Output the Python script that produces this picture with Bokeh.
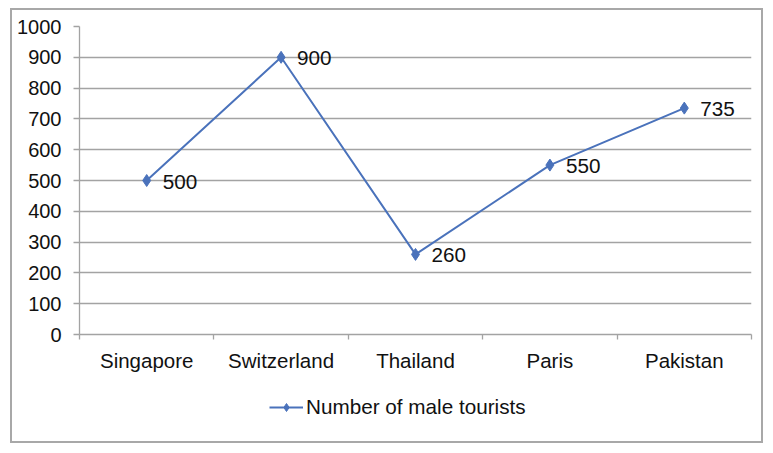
from bokeh.plotting import figure
from bokeh.layouts import column
from bokeh.models import (Range1d, FixedTicker, SingleIntervalTicker, Legend, LegendItem,
                          ColumnDataSource)
from bokeh.embed import file_html
from bokeh.resources import INLINE
from bokeh.core.properties import value

categories = ["Singapore", "Switzerland", "Thailand", "Paris", "Pakistan"]
male_tourists = [500, 900, 260, 550, 735]
series_name = "Number of male tourists"

FONT = "Liberation Sans"
LINE_COLOR = "#4a72bb"
GRID = "#a3a3a3"
TEXT = "#111111"

xs = [i + 0.5 for i in range(len(categories))]
src = ColumnDataSource(dict(x=xs, y=male_tourists, label=[str(v) for v in male_tourists]))

p = figure(width=749, height=374, output_backend="svg", toolbar_location=None,
           x_range=Range1d(0, len(categories)), y_range=Range1d(0, 1000),
           min_border_left=67, min_border_right=10, min_border_top=16, min_border_bottom=50)
p.outline_line_color = None
p.background_fill_color = "white"
p.border_fill_color = "white"

# x axis
p.xaxis.ticker = FixedTicker(ticks=xs, minor_ticks=list(range(len(categories) + 1)))
p.xaxis.major_label_overrides = {x: c for x, c in zip(xs, categories)}
p.xaxis.major_tick_line_color = None
p.xaxis.minor_tick_in = 0
p.xaxis.minor_tick_out = 5
p.xaxis.minor_tick_line_color = GRID
p.xaxis.minor_tick_line_width = 1.3
p.xaxis.axis_line_color = GRID
p.xaxis.axis_line_width = 1.3
p.xaxis.major_label_text_font = FONT
p.xaxis.major_label_text_font_size = "20.5px"
p.xaxis.major_label_text_color = TEXT
p.xaxis.major_label_standoff = 8
p.xgrid.visible = False

# y axis
p.yaxis.ticker = SingleIntervalTicker(interval=100, num_minor_ticks=0)
p.yaxis.major_tick_in = 0
p.yaxis.major_tick_out = 6
p.yaxis.major_tick_line_color = GRID
p.yaxis.major_tick_line_width = 1.3
p.yaxis.minor_tick_line_color = None
p.yaxis.axis_line_color = GRID
p.yaxis.axis_line_width = 1.3
p.yaxis.major_label_text_font = FONT
p.yaxis.major_label_text_font_size = "20px"
p.yaxis.major_label_text_color = TEXT
p.yaxis.major_label_standoff = 12
p.ygrid.grid_line_color = GRID
p.ygrid.grid_line_width = 1.3

p.line("x", "y", source=src, line_color=LINE_COLOR, line_width=2)
p.scatter("x", "y", source=src, marker="diamond", size=12, fill_color=LINE_COLOR,
          line_color=LINE_COLOR)
p.text("x", "y", text="label", source=src, x_offset=16, y_offset=1,
       text_font=value(FONT), text_font_size="20.7px", text_baseline="middle",
       text_color=TEXT)

# legend strip below the chart (its renderers share the data but lie outside its view)
pl = figure(width=749, height=57, output_backend="svg", toolbar_location=None,
            x_axis_location=None, y_axis_location=None,
            x_range=Range1d(100, 101), y_range=Range1d(5000, 5001),
            min_border_left=0, min_border_right=0, min_border_top=0, min_border_bottom=0)
pl.outline_line_color = None
pl.grid.visible = False
ln = pl.line("x", "y", source=src, line_color=LINE_COLOR, line_width=2)
mk = pl.scatter("x", "y", source=src, marker="diamond", size=9, fill_color=LINE_COLOR,
                line_color=LINE_COLOR)
legend = Legend(items=[LegendItem(label=series_name, renderers=[ln, mk])],
                location=(190, 22), orientation="horizontal",
                label_text_font=FONT, label_text_font_size="20.7px", label_text_color=TEXT,
                glyph_width=34, glyph_height=20, label_height=20,
                label_standoff=3, padding=0, margin=0,
                border_line_color=None, background_fill_alpha=0)
pl.add_layout(legend, "center")

layout = column(p, pl, spacing=0,
                styles={"border": "2px solid #a8a8a8", "margin": "8px 0 0 10px"})

open("out.html", "w").write(file_html(layout, INLINE))
